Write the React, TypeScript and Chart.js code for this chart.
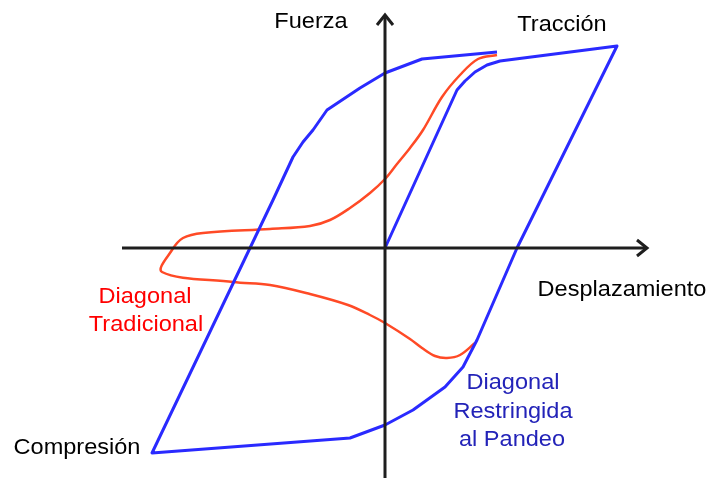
import React, { useEffect, useRef } from "react";
import { Chart, registerables } from "chart.js";

Chart.register(...registerables);

// Units: displacement (x) and force (y), origin at axes crossing
const bracedX = [0, 7.2, 8.0, 9.0, 10.2, 11.5, 23.2, 13.2, 9.2, 7.8, 6.0, 2.8, 0, -3.5, -23.3, -13.5, -11.2, -9.2, -8.2, -7.2, -5.8, -2.5, 0, 3.7, 11.2];
const bracedY = [0, 15.8, 16.7, 17.6, 18.3, 18.7, 20.2, 0, -9.2, -11.9, -13.9, -16.2, -17.7, -19.0, -20.5, 0, 4.8, 9.1, 10.6, 11.8, 13.8, 16.0, 17.5, 18.9, 19.6];

const tradX = [11.2, 9.3, 7.5, 5.7, 3.8, 2.5, 1.2, 0, -1.5, -3.5, -5.5, -7.5, -11.5, -18.2, -20.2, -21.3, -22.3, -15.2, -11.5, -7.5, -3.7, -1.5, 0, 2.5, 3.7, 5.0, 6.2, 7.5, 9.0];
const tradY = [19.3, 18.9, 17.3, 15.1, 11.8, 10.0, 8.4, 6.9, 5.5, 4.0, 2.8, 2.2, 1.9, 1.5, 1.0, -0.2, -2.4, -3.4, -3.7, -4.6, -5.7, -6.7, -7.5, -9.1, -10.0, -10.8, -11.0, -10.7, -9.5];

const axisXRange = [-26.3, 26.2];
const axisYRange = [-23.0, 23.3];

const labelTexts = ["Fuerza", "Tracción", "Desplazamiento", "Compresión", "Diagonal", "Tradicional", "Diagonal", "Restringida", "al Pandeo"];

const toPoints = (xs: number[], ys: number[]) => xs.map((x, i) => ({ x, y: ys[i] }));

export default function App() {
  const ref = useRef<HTMLCanvasElement | null>(null);
  useEffect(() => {
    if (!ref.current) return;
    const labelPlacement = [
      { x: -7.4, y: 22.6, color: "#000000" },
      { x: 17.7, y: 22.3, color: "#000000" },
      { x: 23.7, y: -4.2, color: "#000000" },
      { x: -30.8, y: -20.0, color: "#000000" },
      { x: -24.0, y: -4.9, color: "#ff0000" },
      { x: -23.9, y: -7.7, color: "#ff0000" },
      { x: 12.8, y: -13.5, color: "#2323b8" },
      { x: 12.8, y: -16.4, color: "#2323b8" },
      { x: 12.7, y: -19.2, color: "#2323b8" },
    ];
    const axesPlugin = {
      id: "axesArrows",
      afterDatasetsDraw(chart: any) {
        const { ctx, scales } = chart;
        const xs = scales.x, ys = scales.y;
        const x0 = xs.getPixelForValue(0), y0 = ys.getPixelForValue(0);
        const xl = xs.getPixelForValue(axisXRange[0]), xr = xs.getPixelForValue(axisXRange[1]);
        const yb = ys.getPixelForValue(axisYRange[0]), yt = ys.getPixelForValue(axisYRange[1]);
        ctx.save();
        ctx.strokeStyle = "#1e1e1e";
        ctx.lineWidth = 3;
        ctx.lineCap = "butt";
        ctx.lineJoin = "miter";
        ctx.beginPath();
        ctx.moveTo(xl, y0); ctx.lineTo(xr - 1, y0);
        ctx.moveTo(x0, yb); ctx.lineTo(x0, yt + 1);
        ctx.stroke();
        ctx.beginPath();
        ctx.moveTo(xr - 10, y0 - 8); ctx.lineTo(xr, y0); ctx.lineTo(xr - 10, y0 + 8);
        ctx.moveTo(x0 - 8, yt + 10); ctx.lineTo(x0, yt); ctx.lineTo(x0 + 8, yt + 10);
        ctx.stroke();
        // labels
        ctx.font = "22px 'Liberation Sans', Arial, sans-serif";
        ctx.textAlign = "center";
        ctx.textBaseline = "middle";
        labelTexts.forEach((t, i) => {
          const p = labelPlacement[i];
          const px = xs.getPixelForValue(p.x), py = ys.getPixelForValue(p.y);
          ctx.save();
          ctx.translate(px, py);
          ctx.scale(1.07, 1);
          ctx.fillStyle = p.color;
          ctx.fillText(t, 0, 0);
          ctx.restore();
        });
        ctx.restore();
      },
    };
    const chart = new Chart(ref.current, {
      type: "scatter",
      data: {
        datasets: [
          {
            label: "Diagonal Restringida al Pandeo",
            data: toPoints(bracedX, bracedY),
            showLine: true,
            borderColor: "#2a2aff",
            borderWidth: 3,
            pointRadius: 0,
            tension: 0,
            borderJoinStyle: "round",
          },
          {
            label: "Diagonal Tradicional",
            data: toPoints(tradX, tradY),
            showLine: true,
            borderColor: "#ff4a26",
            borderWidth: 2.5,
            pointRadius: 0,
            tension: 0.35,
            borderJoinStyle: "round",
          },
        ],
      },
      options: {
        animation: false,
        responsive: false,
        maintainAspectRatio: false,
        layout: { padding: 0 },
        scales: {
          x: { type: "linear", display: false, min: -38.5, max: 32.6 },
          y: { type: "linear", display: false, min: -23.4, max: 24.8 },
        },
        plugins: { legend: { display: false }, tooltip: { enabled: false } },
      },
      plugins: [axesPlugin],
    } as any);
    return () => chart.destroy();
  }, []);
  return (
    <div style={{ position: "fixed", left: 0, top: 0, width: 711, height: 482, background: "#ffffff" }}>
      <canvas ref={ref} width={711} height={482} />
    </div>
  );
}
